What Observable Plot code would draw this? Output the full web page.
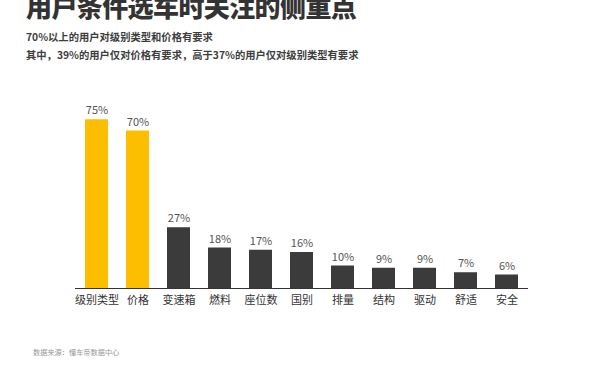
<!DOCTYPE html>
<html>
<head>
<meta charset="utf-8">
<script src="https://cdn.jsdelivr.net/npm/d3@7"></script>
<script src="https://cdn.jsdelivr.net/npm/@observablehq/plot@0.6"></script>
<style>
  html, body { margin: 0; padding: 0; background: #fff; }
  #wrap { position: relative; width: 600px; height: 373px; overflow: hidden; font-family: "Noto Sans CJK SC", "Noto Sans", sans-serif; }
  #title { position: absolute; left: 26px; top: -7px; font-size: 26px; line-height: 1; font-weight: 900; color: #333; letter-spacing: -0.6px; white-space: nowrap; }
  .sub { position: absolute; left: 26px; font-size: 10.3px; line-height: 1; font-weight: 700; color: #3d3d3d; white-space: nowrap; }
  #sub1 { top: 32px; }
  #sub2 { top: 50px; }
  #source { position: absolute; left: 33px; top: 349px; font-size: 7.2px; line-height: 1; color: #999; white-space: nowrap; }
  #chart { position: absolute; left: 0; top: 0; }
</style>
</head>
<body>
<div id="wrap">
  <div id="chart"></div>
  <div id="title">用户条件选车时关注的侧重点</div>
  <div class="sub" id="sub1">70%以上的用户对级别类型和价格有要求</div>
  <div class="sub" id="sub2">其中，39%的用户仅对价格有要求，高于37%的用户仅对级别类型有要求</div>
  <div id="source">数据来源：懂车帝数据中心</div>
</div>
<script>
const categories = ["级别类型", "价格", "变速箱", "燃料", "座位数", "国别", "排量", "结构", "驱动", "舒适", "安全"];
const values = [75, 70, 27, 18, 17, 16, 10, 9, 9, 7, 6];
const highlighted = ["级别类型", "价格"];

const data = categories.map((c, i) => ({ category: c, value: values[i], hi: highlighted.includes(c) }));

const chart = Plot.plot({
  width: 600,
  height: 373,
  marginTop: 108,
  marginBottom: 85,
  marginLeft: 75,
  marginRight: 72,
  style: { fontFamily: "'Noto Sans CJK SC', 'Noto Sans', sans-serif", background: "transparent" },
  x: { domain: categories, paddingInner: 0.44, paddingOuter: 0.22, label: null },
  y: { domain: [0, 80], axis: null },
  marks: [
    Plot.barY(data, { x: "category", y: "value", fill: d => d.hi ? "#FDBE00" : "#3b3b3b" }),
    Plot.ruleY([0], { stroke: "#333", strokeWidth: 1 }),
    Plot.text(data, { x: "category", y: "value", text: d => d.value + "%", dy: -9, fontSize: 11, fill: "#555" }),
    Plot.axisX({ tickSize: 0, tickPadding: 8, fontSize: 11, color: "#333", label: null })
  ]
});
document.getElementById("chart").appendChild(chart);
</script>
</body>
</html>
